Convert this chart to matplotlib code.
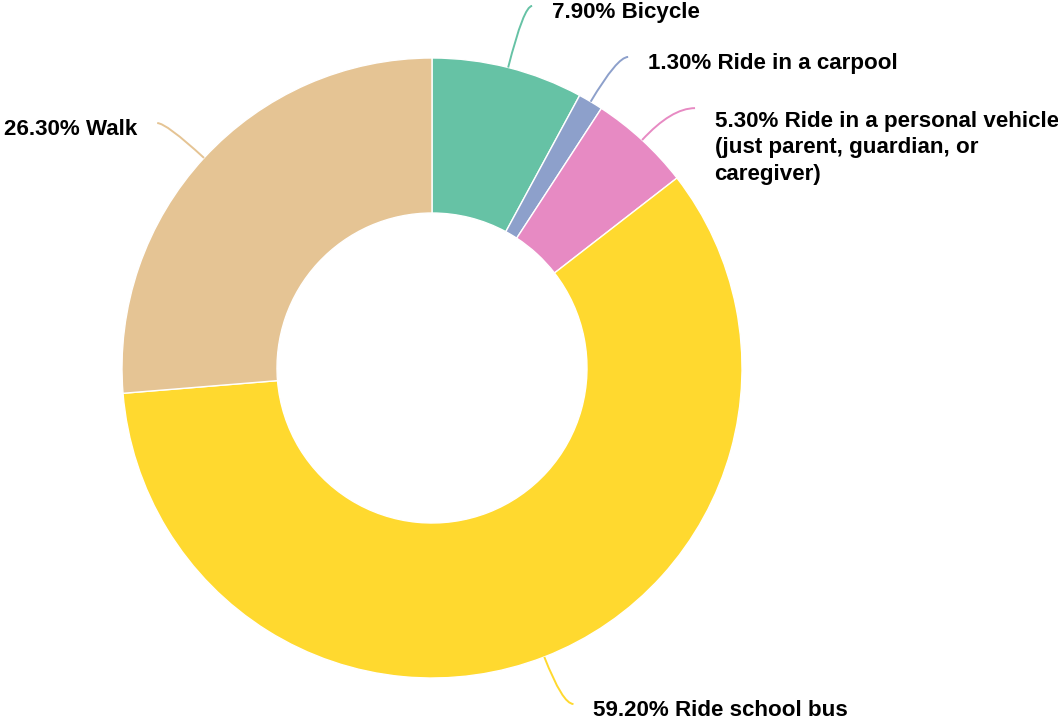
import numpy as np
import matplotlib.pyplot as plt
from matplotlib.path import Path
from matplotlib.patches import PathPatch

plt.rcParams['font.family'] = ['Liberation Sans', 'DejaVu Sans']

# data
labels = ['Bicycle', 'Ride in a carpool',
          'Ride in a personal vehicle\n(just parent, guardian, or\ncaregiver)',
          'Ride school bus', 'Walk']
shares = [7.9, 1.3, 5.3, 59.2, 26.3]
colors = ['#66c2a5', '#8da0cb', '#e78ac3', '#ffd92f', '#e5c494']

# leader line lengths (radial part, horizontal part), in radius units
len1 = [0.205, 0.168, 0.14, 0.163, 0.166]
len2 = [0.027, 0.035, 0.076, 0.035, 0.029]

fig = plt.figure(figsize=(10.58, 7.23), dpi=100)
ax = fig.add_axes([0, 0, 1, 1])

wedges, _ = ax.pie(shares, colors=colors, startangle=90, counterclock=False,
                   radius=1, wedgeprops=dict(width=0.5, edgecolor='white', linewidth=1))

r_px = 310.0
ax.set_xlim(-432 / r_px, (1058 - 432) / r_px)
ax.set_ylim(-(723 - 368) / r_px, 368 / r_px)
ax.axis('off')

line_step = 29.5 / r_px  # distance between text lines

for i, w in enumerate(wedges):
    mid = np.deg2rad((w.theta1 + w.theta2) / 2)
    c, s = np.cos(mid), np.sin(mid)
    side = 1 if c > 0 else -1
    p0 = (c, s)
    p1 = ((1 + len1[i]) * c, (1 + len1[i]) * s)
    p2 = (p1[0] + side * len2[i], p1[1])
    path = Path([p0, p1, p2], [Path.MOVETO, Path.CURVE3, Path.CURVE3])
    ax.add_patch(PathPatch(path, facecolor='none', edgecolor=colors[i], lw=1.4))
    # baseline alignment sits on the last line, so lift by the extra lines
    extra = labels[i].count('\n') * line_step
    ax.text(p2[0] + side * 0.063, p2[1] - 0.04 - extra, '%.2f%% %s' % (shares[i], labels[i]),
            ha='left' if side > 0 else 'right', va='baseline',
            fontsize=16.1, fontweight='bold', color='black', linespacing=1.34)

fig.savefig('out.png', dpi=100)
